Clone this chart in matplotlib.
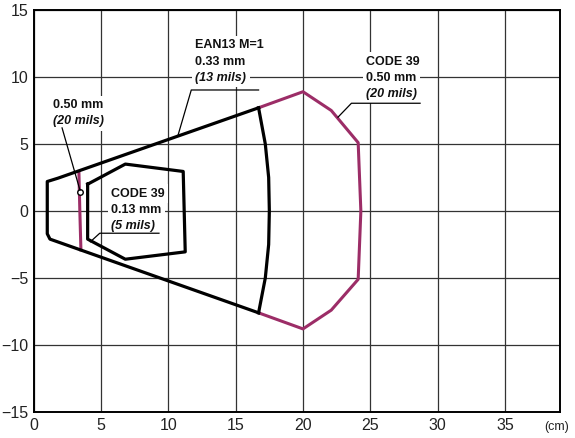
import numpy as np
import matplotlib.pyplot as plt

plt.rcParams['font.family'] = ['Liberation Sans', 'DejaVu Sans']

# EAN13 M=1, 0.33 mm field (black outline)
ean_x = [16.7, 1.8, 1.0, 1.0, 1.2, 16.7]
ean_y = [7.7, 2.45, 2.2, -1.7, -2.1, -7.6]
ean_arc_x = [16.7, 17.2, 17.45, 17.5, 17.45, 17.2, 16.7]
ean_arc_y = [7.7, 5.0, 2.5, 0.0, -2.5, -5.0, -7.6]

# CODE 39, 0.50 mm field (magenta)
c39w_x = [16.7, 20.0, 22.1, 24.1, 24.3, 24.1, 22.1, 20.0, 16.7]
c39w_y = [7.7, 8.9, 7.5, 5.1, 0.0, -5.1, -7.4, -8.8, -7.6]
c39w_near_x = [3.35, 3.42, 3.5]
c39w_near_y = [2.95, 0.0, -2.9]

# CODE 39, 0.13 mm field (black)
c39n_x = [4.0, 6.8, 11.1, 11.25, 6.8, 4.0, 4.0]
c39n_y = [2.0, 3.5, 2.95, -3.05, -3.6, -2.1, 2.0]

xticks = [0, 5, 10, 15, 20, 25, 30, 35]
yticks = [-15, -10, -5, 0, 5, 10, 15]

# label blocks: (x, first line y, lines); last line is italic
labels = [
    (12.0, 12.35, ['EAN13 M=1', '0.33 mm', '(13 mils)']),
    (24.7, 11.15, ['CODE 39', '0.50 mm', '(20 mils)']),
    (1.4, 7.9, ['0.50 mm', '(20 mils)']),
    (5.75, 1.3, ['CODE 39', '0.13 mm', '(5 mils)']),
]
# leader lines (underline + pointer)
leaders = [
    ([16.7, 11.7, 10.7], [9.03, 9.03, 5.6]),
    ([28.7, 23.6, 22.6], [8.04, 8.04, 7.0]),
    ([2.1, 3.43], [6.2, 1.55]),
    ([9.3, 4.9, 4.2], [-1.66, -1.66, -2.3]),
]

magenta = '#9c2d67'

fig = plt.figure(figsize=(5.75, 4.38), dpi=100)
ax = fig.add_axes([0.0588, 0.0594, 0.9152, 0.9178])
ax.set_xlim(0, 39.1)
ax.set_ylim(-15, 15)
ax.set_xticks(xticks)
ax.set_yticks(yticks)
ax.tick_params(length=0, labelsize=11.5, labelcolor='#222222', pad=4)
ax.grid(True, color='#333333', linewidth=0.9)
ax.set_axisbelow(True)
for s in ax.spines.values():
    s.set_linewidth(1.4)

ax.plot(c39w_x, c39w_y, color=magenta, lw=2.2, zorder=4)
ax.plot(c39w_near_x, c39w_near_y, color=magenta, lw=2.2, zorder=4)
ax.plot(ean_x, ean_y, color='black', lw=2.3, zorder=5)
ax.plot(ean_arc_x, ean_arc_y, color='black', lw=2.3, zorder=5)
ax.plot(c39n_x, c39n_y, color='black', lw=2.3, zorder=5)
ax.plot([3.43], [1.4], marker='o', ms=4, mfc='white', mec='black', mew=1, zorder=6)

box = dict(fc='white', ec='none', pad=2.5)
for x, y0, lines in labels:
    for i, line in enumerate(lines):
        ital = 'italic' if i == len(lines) - 1 else 'normal'
        ax.text(x, y0 - i * 1.2, line, fontsize=9, fontweight='bold', style=ital,
                color='#111111', va='center', ha='left', bbox=box, zorder=3)

for lx, ly in leaders:
    ax.plot(lx, ly, color='black', lw=0.9, zorder=6)

fig.text(0.968, 0.025, '(cm)', fontsize=9, color='#222222', ha='center', va='center')

fig.savefig('out.png', dpi=100)
